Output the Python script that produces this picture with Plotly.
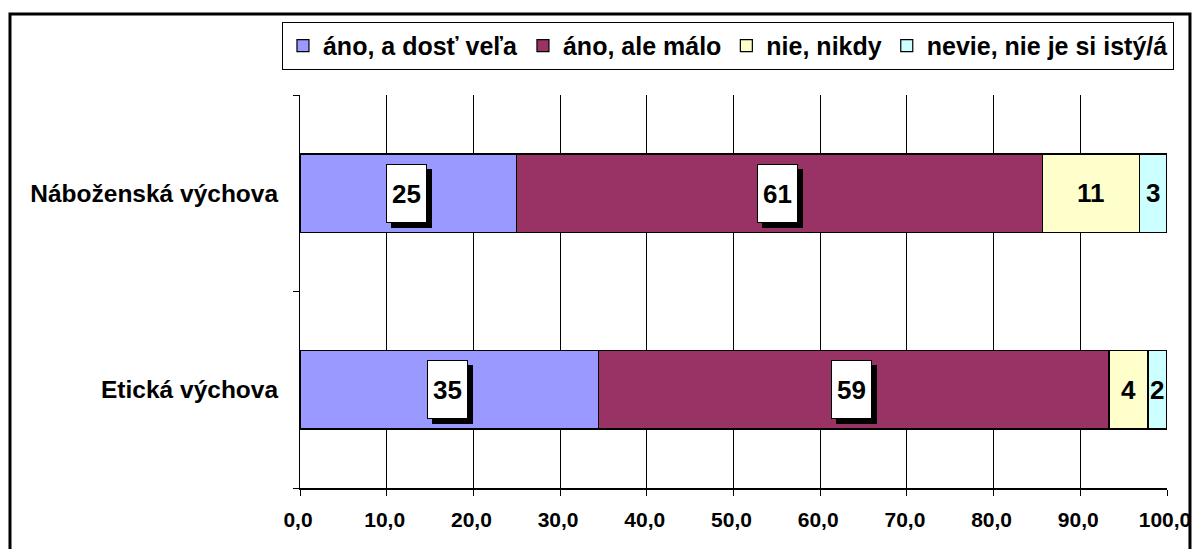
import plotly.graph_objects as go

categories = ["Etická výchova", "Náboženská výchova"]
series_names = ["áno, a dosť veľa", "áno, ale málo", "nie, nikdy", "nevie, nie je si istý/á"]
values = [
    [34.4, 25.0],   # áno, a dosť veľa
    [58.9, 60.6],   # áno, ale málo
    [4.5, 11.2],    # nie, nikdy
    [2.2, 3.2],     # nevie, nie je si istý/á
]
labels = [
    ["35", "25"],
    ["59", "61"],
    ["4", "11"],
    ["2", "3"],
]
colors = ["#9999FF", "#993366", "#FFFFCC", "#CCFFFF"]
boxed = [True, True, False, False]
x_ticks = [0, 10, 20, 30, 40, 50, 60, 70, 80, 90, 100]

FONT = "Arial, 'Liberation Sans', sans-serif"

fig = go.Figure()
for name, vals, col in zip(series_names, values, colors):
    fig.add_trace(go.Bar(
        y=categories, x=vals, name=name, orientation="h",
        marker=dict(color=col, line=dict(color="black", width=1.2)),
        hoverinfo="skip",
    ))

annotations = []
for ci, cat in enumerate(categories):
    start = 0.0
    for si in range(len(series_names)):
        v = values[si][ci]
        cx = start + v / 2
        start += v
        txt = "<b>%s</b>" % labels[si][ci]
        if boxed[si]:
            annotations.append(dict(
                x=cx, y=cat, xref="x", yref="y", text="&nbsp;", showarrow=False,
                font=dict(family=FONT, size=26, color="black"),
                bgcolor="black", bordercolor="black", borderwidth=1, borderpad=1,
                width=37, height=55, xshift=3, yshift=-5,
            ))
            annotations.append(dict(
                x=cx, y=cat, xref="x", yref="y", text=txt, showarrow=False,
                font=dict(family=FONT, size=26, color="black"),
                bgcolor="white", bordercolor="black", borderwidth=1, borderpad=1,
                width=37, height=55, xshift=-2, yshift=0,
            ))
        else:
            annotations.append(dict(
                x=cx, y=cat, xref="x", yref="y", text=txt, showarrow=False,
                font=dict(family=FONT, size=26, color="black"),
            ))

fig.update_layout(
    width=1184, height=541,
    barmode="stack", bargap=0.6,
    separators=",.",
    paper_bgcolor="white", plot_bgcolor="white",
    margin=dict(l=292, r=25, t=87, b=61, autoexpand=False),
    font=dict(family=FONT, color="black"),
    showlegend=True,
    legend=dict(
        orientation="h", x=-0.0208, xanchor="left", y=1.186, yanchor="top",
        bordercolor="black", borderwidth=1, bgcolor="white",
        font=dict(family=FONT, size=25, color="black", weight="bold"),
        itemwidth=30, traceorder="normal",
    ),
    annotations=annotations,
    shapes=[dict(
        type="rect", xref="paper", yref="paper",
        x0=-0.3345, x1=1.0265, y0=-0.2, y1=1.206,
        line=dict(color="black", width=3), layer="above",
    )],
)
fig.update_xaxes(
    range=[0, 100], tickvals=x_ticks, tickformat=".1f",
    showgrid=True, gridcolor="black", gridwidth=1,
    showline=True, linecolor="black", linewidth=2,
    ticks="outside", ticklen=6, tickcolor="black",
    tickfont=dict(family=FONT, size=21, color="black", weight="bold"),
    ticklabelstandoff=6, ticklabelshift=-2, ticklabeloverflow="allow",
    zeroline=False, automargin=False,
)
fig.update_yaxes(
    type="category", categoryorder="array", categoryarray=categories,
    showline=True, linecolor="black", linewidth=1,
    ticks="outside", ticklen=6, tickcolor="black", tickson="boundaries",
    tickfont=dict(family=FONT, size=24.5, color="black", weight="bold"),
    ticklabelstandoff=16,
    showgrid=False, automargin=False,
)

fig.write_html("out.html")
